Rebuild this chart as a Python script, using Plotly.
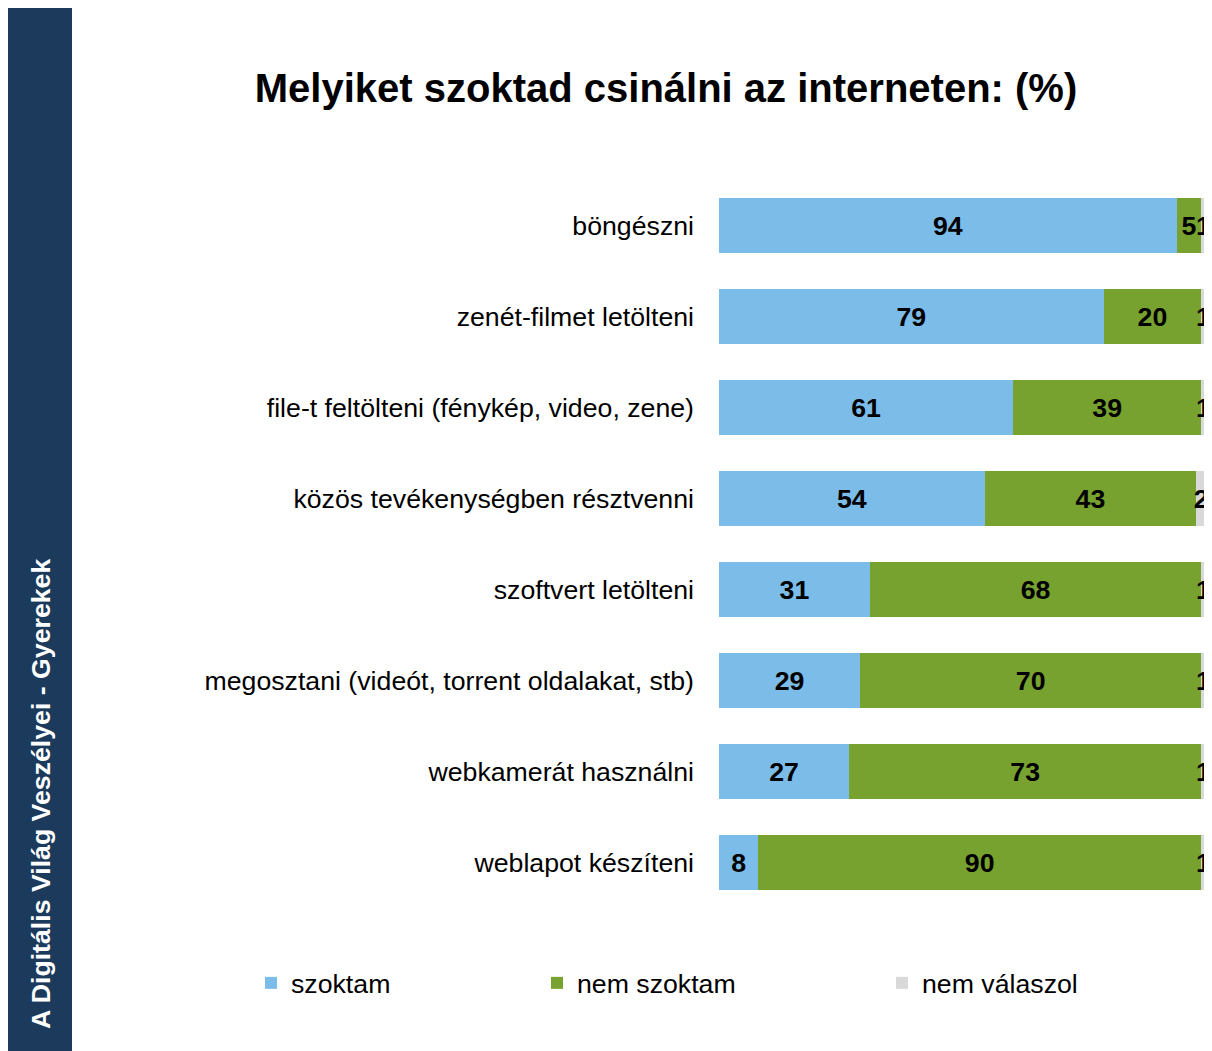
import plotly.graph_objects as go

categories = [
    "böngészni",
    "zenét-filmet letölteni",
    "file-t feltölteni (fénykép, video, zene)",
    "közös tevékenységben résztvenni",
    "szoftvert letölteni",
    "megosztani (videót, torrent oldalakat, stb)",
    "webkamerát használni",
    "weblapot készíteni",
]
szoktam = [94, 79, 61, 54, 31, 29, 27, 8]
nem_szoktam = [5, 20, 39, 43, 68, 70, 73, 90]
nem_valaszol = [1, 1, 1, 2, 1, 1, 1, 1]

series = [
    ("szoktam", szoktam, "#7CBCE8", "legend"),
    ("nem szoktam", nem_szoktam, "#78A22F", "legend2"),
    ("nem válaszol", nem_valaszol, "#D9D9D9", "legend3"),
]

# page has an 8px body margin; work in screen pixels and shift
OFF = 8
W, H = 1212 - OFF, 1051 - OFF
L, R, T, B = 719 - OFF, 6, 180 - OFF, 143
pw, ph = W - L - R, H - T - B
FONT = "Liberation Sans, Arial"
FS = 26.7

def px_x(p):
    return (p - OFF - L) / pw

def px_y(p):
    return (H - B - (p - OFF)) / ph

fig = go.Figure()
for name, vals, color, lg in series:
    fig.add_trace(go.Bar(
        y=categories, x=vals, name=name, orientation="h",
        marker=dict(color=color, line=dict(width=0)),
        text=vals, texttemplate="%{text}", textposition="inside",
        insidetextanchor="middle", constraintext="none",
        insidetextfont=dict(family=FONT, size=FS, color="black", weight="bold"),
        cliponaxis=False, legend=lg, hoverinfo="skip",
    ))

# sidebar
fig.add_shape(type="rect", xref="paper", yref="paper",
              x0=px_x(8), x1=px_x(72), y0=px_y(1060), y1=px_y(5),
              fillcolor="#1B3A5C", line=dict(width=0), layer="below")
fig.add_annotation(xref="paper", yref="paper", x=px_x(41), y=px_y(1031),
                   text="<b>A Digitális Világ Veszélyei - Gyerekek</b>",
                   textangle=-90, showarrow=False, xanchor="center", yanchor="bottom",
                   font=dict(family=FONT, size=FS, color="white"))

legend_common = dict(orientation="h", yanchor="middle", xanchor="left",
                     font=dict(family=FONT, size=FS, color="black"),
                     bgcolor="rgba(0,0,0,0)", itemwidth=30)

fig.update_layout(
    width=W, height=H,
    margin=dict(l=L, r=R, t=T, b=B),
    paper_bgcolor="white", plot_bgcolor="white",
    barmode="stack", barnorm="percent", bargap=0.385,
    title=dict(text="<b>Melyiket szoktad csinálni az interneten: (%)</b>",
               x=(666 - OFF) / W, xanchor="center", xref="container",
               y=1 - (88 - OFF) / H, yanchor="middle", yref="container",
               font=dict(family=FONT, size=40, color="black")),
    xaxis=dict(range=[0, 100], visible=False, fixedrange=True),
    yaxis=dict(autorange="reversed", showgrid=False, showline=False, zeroline=False,
               ticks="", ticklabelstandoff=24,
               tickfont=dict(family=FONT, size=FS, color="black")),
    showlegend=True,
    legend=dict(x=px_x(251), y=px_y(983), **legend_common),
    legend2=dict(x=px_x(537), y=px_y(983), **legend_common),
    legend3=dict(x=px_x(882), y=px_y(983), **legend_common),
)

fig.write_html("out.html")
